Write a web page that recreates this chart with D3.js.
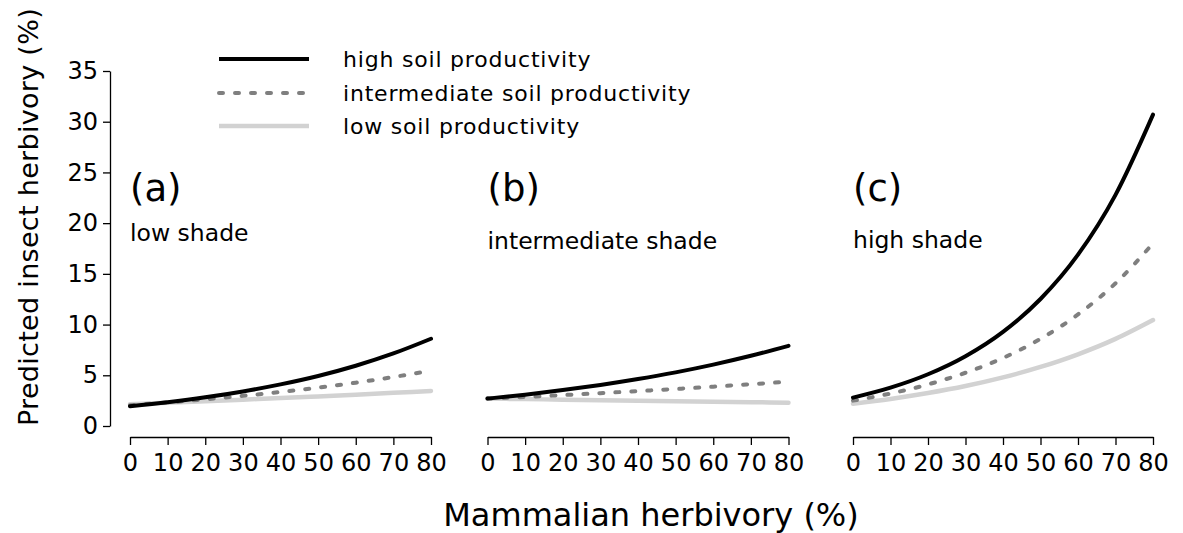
<!DOCTYPE html>
<html>
<head>
<meta charset="utf-8">
<script src="https://cdn.jsdelivr.net/npm/d3@7"></script>
<style>
body { margin: 0; background: #fff; }
text { font-family: "DejaVu Sans", Verdana, sans-serif; fill: #000; }
</style>
</head>
<body>
<div class="viz"></div>
<script>
// mammalian herbivory (%) at which the fitted curves are read
var mammalian = [0, 10, 20, 30, 40, 50, 60, 70, 80];

var panelLetters = ["(a)", "(b)", "(c)"];
var panelShade = ["low shade", "intermediate shade", "high shade"];
var seriesNames = ["high soil productivity", "intermediate soil productivity", "low soil productivity"];

// predicted insect herbivory (%), one row per panel (low, intermediate, high shade)
var highSoil = [
    [1.95, 2.35, 2.83, 3.41, 4.10, 4.93, 5.94, 7.15, 8.60],
    [2.70, 3.09, 3.54, 4.05, 4.63, 5.29, 6.05, 6.92, 7.90],
    [2.80, 3.78, 5.10, 6.88, 9.28, 12.52, 16.89, 22.79, 30.70]
];
var intermediateSoil = [
    [2.05, 2.32, 2.63, 2.97, 3.35, 3.78, 4.27, 4.83, 5.45],
    [2.70, 2.87, 3.05, 3.24, 3.44, 3.65, 3.88, 4.12, 4.37],
    [2.50, 3.20, 4.10, 5.25, 6.71, 8.59, 11.00, 14.07, 18.00]
];
var lowSoil = [
    [2.15, 2.30, 2.45, 2.60, 2.75, 2.92, 3.09, 3.27, 3.45],
    [2.70, 2.65, 2.60, 2.55, 2.50, 2.45, 2.40, 2.35, 2.30],
    [2.20, 2.67, 3.25, 3.94, 4.79, 5.82, 7.07, 8.59, 10.45]
];

var yTicks = [0, 5, 10, 15, 20, 25, 30, 35];
var xTicks = [0, 10, 20, 30, 40, 50, 60, 70, 80];

var width = 1183,
    height = 533;

var styles = [
    { color: "#000000", width: 4, dash: null },
    { color: "#7f7f7f", width: 4, dash: "4,12" },
    { color: "#d2d2d2", width: 4.5, dash: null }
];

// pixel ranges of the three panels
var panelX = [[130, 431], [487.5, 788.5], [853, 1153]];
var subtitleY = [241, 249, 248];

var svg = d3.select('.viz').append('svg')
    .attr('width', width)
    .attr('height', height);

var y = d3.scaleLinear()
    .domain([0, 35])
    .range([426, 71]);

// y axis only on the first panel
var yAxis = svg.append('g')
    .attr('transform', 'translate(110,0)')
    .call(d3.axisLeft(y).tickValues(yTicks).tickSize(7).tickSizeOuter(0));

yAxis.selectAll('text')
    .attr('x', -12)
    .style('font-size', '24px')
    .style('font-family', '"DejaVu Sans", Verdana, sans-serif');
yAxis.selectAll('path, line').attr('stroke', '#000').attr('stroke-width', 1.3);

var allSeries = [highSoil, intermediateSoil, lowSoil];

panelX.forEach(function(range, p) {
    var x = d3.scaleLinear()
        .domain([0, 80])
        .range(range);

    var xAxis = svg.append('g')
        .attr('transform', 'translate(0,437)')
        .call(d3.axisBottom(x).tickValues(xTicks).tickSize(8).tickSizeOuter(0));

    xAxis.selectAll('text')
        .attr('y', 34)
        .attr('dy', null)
        .style('font-size', '24px')
        .style('font-family', '"DejaVu Sans", Verdana, sans-serif');
    xAxis.selectAll('path, line').attr('stroke', '#000').attr('stroke-width', 1.3);

    var line = d3.line()
        .x(function(d, i) { return x(mammalian[i]); })
        .y(function(d) { return y(d); })
        .curve(d3.curveMonotoneX);

    // draw low first so the dark curve sits on top
    [2, 1, 0].forEach(function(s) {
        svg.append('path')
            .datum(allSeries[s][p])
            .attr('d', line)
            .attr('fill', 'none')
            .attr('stroke', styles[s].color)
            .attr('stroke-width', styles[s].width)
            .attr('stroke-linecap', 'round')
            .attr('stroke-dasharray', styles[s].dash);
    });

    svg.append('text')
        .attr('x', range[0])
        .attr('y', 201)
        .style('font-size', '37px')
        .text(panelLetters[p]);

    svg.append('text')
        .attr('x', range[0])
        .attr('y', subtitleY[p])
        .style('font-size', '23.5px')
        .text(panelShade[p]);
});

// legend
var legendY = [59, 93, 126];
seriesNames.forEach(function(name, s) {
    svg.append('line')
        .attr('x1', 219)
        .attr('x2', 309)
        .attr('y1', legendY[s])
        .attr('y2', legendY[s])
        .attr('stroke', styles[s].color)
        .attr('stroke-width', styles[s].width)
        .attr('stroke-linecap', s == 1 ? 'round' : 'butt')
        .attr('stroke-dasharray', styles[s].dash);

    svg.append('text')
        .attr('x', 343)
        .attr('y', legendY[s] + 7.5)
        .style('font-size', '22px')
        .style('letter-spacing', '0.8px')
        .text(name);
});

// axis titles
svg.append('text')
    .attr('transform', 'translate(38,217)rotate(-90)')
    .attr('text-anchor', 'middle')
    .style('font-size', '27px')
    .style('letter-spacing', '0.3px')
    .text('Predicted insect herbivory (%)');

svg.append('text')
    .attr('x', 651)
    .attr('y', 526)
    .attr('text-anchor', 'middle')
    .style('font-size', '32px')
    .text('Mammalian herbivory (%)');
</script>
</body>
</html>
